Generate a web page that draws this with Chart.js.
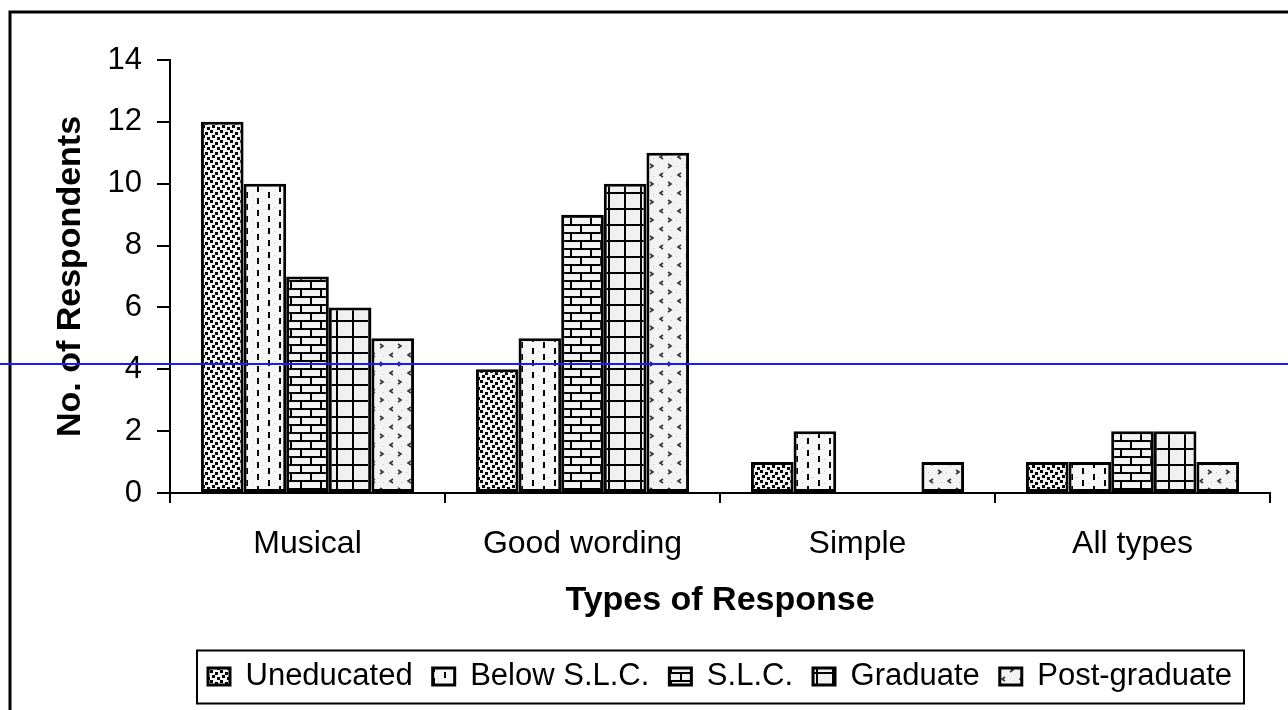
<!DOCTYPE html>
<html>
<head>
<meta charset="utf-8">
<title>Types of Response</title>
<script src="https://cdn.jsdelivr.net/npm/chart.js@4"></script>
<style>
  html, body { margin: 0; padding: 0; background: #fff; }
  #wrap { position: relative; width: 1288px; height: 710px; }
</style>
</head>
<body>
<div id="wrap"><canvas id="respChart" width="1288" height="710"></canvas></div>
<script>
const categories = ["Musical", "Good wording", "Simple", "All types"];
const uneducated = [12, 4, 1, 1];
const belowSLC = [10, 5, 2, 1];
const slc = [7, 9, 0, 2];
const graduate = [6, 10, 0, 2];
const postGraduate = [5, 11, 1, 1];
const seriesNames = ["Uneducated", "Below S.L.C.", "S.L.C.", "Graduate", "Post-graduate"];
const yTicks = [0, 2, 4, 6, 8, 10, 12, 14];
// stray blue rule that runs across the scanned figure
const blueLineValue = 4.18;

const FONT = "'Liberation Sans', Arial, Helvetica, sans-serif";
const canvas = document.getElementById("respChart");
const mainCtx = canvas.getContext("2d");

function makePattern(w, h, bg, draw) {
  const c = document.createElement("canvas");
  c.width = w;
  c.height = h;
  const ctx = c.getContext("2d");
  ctx.fillStyle = bg;
  ctx.fillRect(0, 0, w, h);
  ctx.fillStyle = "#000";
  ctx.strokeStyle = "#000";
  draw(ctx);
  return mainCtx.createPattern(c, "repeat");
}

// black speckles
const dotsFill = makePattern(10, 10, "#f2f2f2", ctx => {
  ctx.fillRect(0, 0, 3, 3);
  ctx.fillRect(5, 2, 3, 3);
  ctx.fillRect(2, 5, 3, 3);
  ctx.fillRect(7, 7, 3, 3);
});

// vertical dashes
const dashFill = makePattern(22, 12, "#f7f7f7", ctx => {
  ctx.fillRect(4, 0, 2, 6);
  ctx.fillRect(15, 6, 2, 6);
  ctx.fillStyle = "#cfcfcf";
  ctx.fillRect(10, 3, 1, 1);
  ctx.fillRect(20, 9, 1, 1);
});

// brick
const brickFill = makePattern(20, 16, "#f3f3f3", ctx => {
  ctx.fillRect(0, 0, 20, 2);
  ctx.fillRect(0, 8, 20, 2);
  ctx.fillRect(0, 0, 2, 8);
  ctx.fillRect(10, 8, 2, 8);
});

// square grid
const gridFill = makePattern(16, 16, "#f1f1f1", ctx => {
  ctx.fillRect(0, 0, 16, 2);
  ctx.fillRect(0, 0, 2, 16);
  ctx.fillStyle = "#d8d8d8";
  ctx.fillRect(8, 6, 1, 1);
  ctx.fillRect(5, 11, 1, 1);
});

// sparse chevrons
const chevronFill = makePattern(18, 18, "#f3f3f3", ctx => {
  ctx.strokeStyle = "#333";
  ctx.lineWidth = 1.6;
  ctx.beginPath();
  ctx.moveTo(2, 2); ctx.lineTo(5, 4); ctx.lineTo(2, 6);
  ctx.moveTo(15, 11); ctx.lineTo(12, 13); ctx.lineTo(15, 15);
  ctx.stroke();
  ctx.fillStyle = "#c8c8c8";
  ctx.fillRect(10, 4, 1, 1);
  ctx.fillRect(5, 14, 1, 1);
});

const seriesValues = [uneducated, belowSLC, slc, graduate, postGraduate];
const seriesFills = [dotsFill, dashFill, brickFill, gridFill, chevronFill];

const decorations = {
  id: "decorations",
  afterDraw(chart) {
    const ctx = chart.ctx;
    const y = chart.scales.y;
    const legend = chart.legend;
    ctx.save();

    // outer frame (cut at right and bottom)
    ctx.strokeStyle = "#000";
    ctx.lineWidth = 3;
    ctx.beginPath();
    ctx.moveTo(10, chart.height);
    ctx.lineTo(10, 12);
    ctx.lineTo(chart.width, 12);
    ctx.stroke();

    // legend box
    if (legend && legend.legendHitBoxes.length) {
      const boxes = legend.legendHitBoxes;
      const left = Math.min(...boxes.map(b => b.left)) - 11;
      const right = Math.max(...boxes.map(b => b.left + b.width)) + 12;
      const mid = boxes[0].top + boxes[0].height / 2;
      ctx.lineWidth = 2;
      ctx.strokeRect(left, mid - 26, right - left, 53);
    }

    // blue rule
    const py = Math.round(y.getPixelForValue(blueLineValue));
    ctx.strokeStyle = "#1a1aff";
    ctx.lineWidth = 2;
    ctx.beginPath();
    ctx.moveTo(0, py);
    ctx.lineTo(chart.width, py);
    ctx.stroke();
    ctx.restore();
  }
};

new Chart(canvas, {
  type: "bar",
  data: {
    labels: categories,
    datasets: seriesNames.map((name, i) => ({
      label: name,
      data: seriesValues[i],
      backgroundColor: seriesFills[i],
      borderColor: "#000",
      borderWidth: 3,
      borderSkipped: false,
      categoryPercentage: 0.775,
      barPercentage: 1
    }))
  },
  options: {
    responsive: false,
    animation: false,
    events: [],
    devicePixelRatio: 1,
    layout: { padding: { left: 0, top: 60, right: 18, bottom: 8 } },
    scales: {
      x: {
        grid: { drawOnChartArea: false, color: "#000", lineWidth: 2, tickLength: 10, offset: true },
        border: { color: "#000", width: 2 },
        ticks: { color: "#000", font: { family: FONT, size: 32 }, padding: 22, maxRotation: 0 },
        title: {
          display: true,
          text: "Types of Response",
          color: "#000",
          font: { family: FONT, size: 34, weight: "bold" },
          padding: { top: 10, bottom: 20 }
        },
        afterFit(scale) { scale.height = 148; }
      },
      y: {
        min: yTicks[0],
        max: yTicks[yTicks.length - 1],
        ticks: { stepSize: 2, color: "#000", font: { family: FONT, size: 31 }, padding: 15 },
        grid: { drawOnChartArea: false, color: "#000", lineWidth: 2, tickLength: 13 },
        border: { color: "#000", width: 2 },
        title: {
          display: true,
          text: "No. of Respondents",
          color: "#000",
          font: { family: FONT, size: 34, weight: "bold" },
          padding: { top: 50, bottom: 0 }
        },
        afterFit(scale) { scale.width = 170; }
      }
    },
    plugins: {
      tooltip: { enabled: false },
      legend: {
        position: "bottom",
        fullSize: false,
        labels: {
          color: "#000",
          font: { family: FONT, size: 31 },
          boxWidth: 22,
          boxHeight: 17,
          padding: 20
        }
      }
    }
  },
  plugins: [decorations]
});
</script>
</body>
</html>
